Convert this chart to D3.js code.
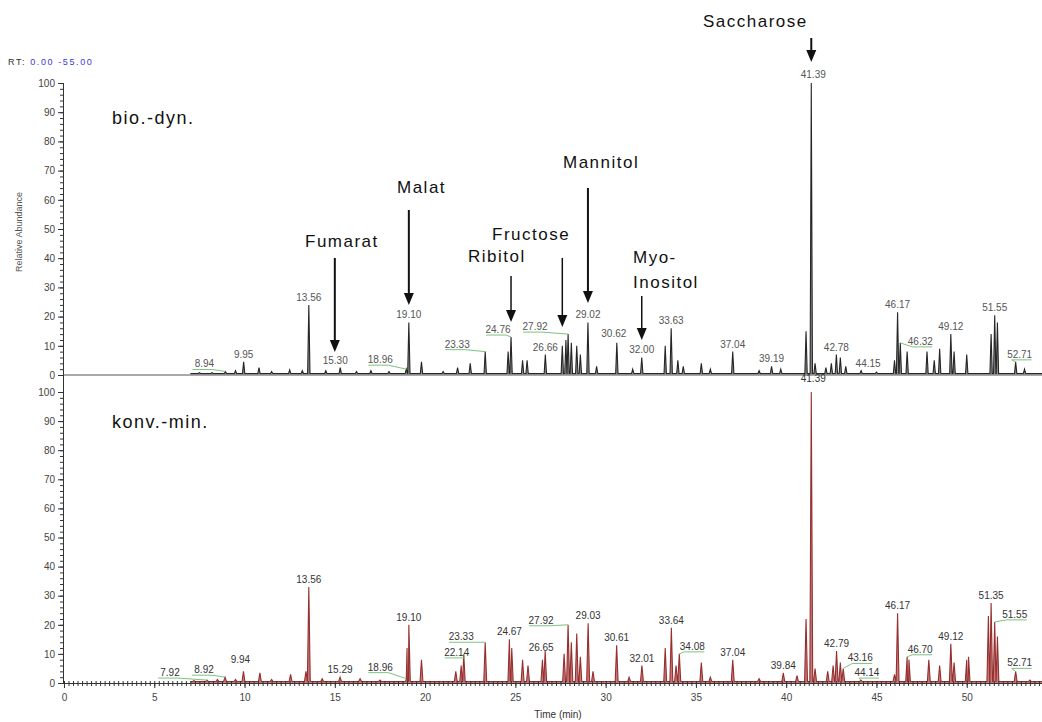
<!DOCTYPE html>
<html>
<head>
<meta charset="utf-8">
<script src="https://cdn.jsdelivr.net/npm/d3@7"></script>
<style>
  body { margin: 0; background: #fff; }
  svg { display: block; font-family: "Liberation Sans", Arial, sans-serif; }
  .axis text { font-size: 10px; fill: #444; }
  .axis line, .axis path { stroke: #333; }
</style>
</head>
<body>
<div id="chart-area"></div>
<script>
// retention times (min) and relative abundance (%)
var bioTimes = [7.5, 8.2, 8.94, 9.5, 9.95, 10.8, 11.5, 12.5, 13.2, 13.56, 14.5, 15.30, 16.2, 17.0, 18.0, 18.96, 19.10, 19.8, 21.0, 21.8, 22.5, 23.33, 24.60, 24.76, 25.40, 25.65, 26.66, 27.60, 27.80, 27.92, 28.10, 28.40, 28.60, 29.02, 29.50, 30.62, 31.50, 32.00, 33.30, 33.63, 34.00, 34.3, 35.30, 35.80, 37.04, 38.50, 39.19, 39.70, 41.10, 41.39, 41.60, 42.20, 42.50, 42.78, 43.00, 43.30, 44.15, 45.0, 46.00, 46.17, 46.32, 46.70, 47.80, 48.20, 48.50, 49.12, 49.30, 50.00, 51.35, 51.55, 51.70, 52.71, 53.20];
var bioValues = [0.8, 0.8, 1.2, 1.5, 4.5, 2.5, 1.2, 1.8, 1.5, 24, 1.5, 2.5, 1.2, 1.5, 1.2, 2, 18, 4.5, 1.2, 2.5, 4, 8, 8, 13, 5, 5, 7, 10, 12, 14, 11, 10, 7, 18, 3, 11, 2, 6, 10, 16, 5, 3, 4, 2, 8, 1.5, 3, 2, 15, 100, 4, 2.5, 4, 7, 6, 3, 1.5, 1, 5, 21.5, 11, 8, 8, 5, 9, 14, 8, 7, 14, 20.5, 18, 4.5, 2];

var konvTimes = [7.2, 7.92, 8.5, 8.92, 9.5, 9.94, 10.85, 11.5, 12.55, 13.40, 13.56, 14.3, 15.29, 16.4, 17.5, 18.96, 19.00, 19.10, 19.80, 21.70, 22.00, 22.14, 23.33, 24.67, 24.80, 25.40, 25.70, 26.50, 26.65, 27.70, 27.92, 28.10, 28.40, 28.60, 29.03, 29.30, 30.61, 31.30, 32.01, 33.30, 33.64, 33.90, 34.08, 35.30, 35.8, 37.04, 38.5, 39.84, 40.6, 41.10, 41.39, 41.60, 42.30, 42.60, 42.79, 43.00, 43.16, 44.14, 46.00, 46.17, 46.70, 46.80, 47.90, 48.50, 49.12, 49.30, 50.00, 50.10, 51.20, 51.35, 51.55, 51.70, 52.71, 53.50];
var konvValues = [0.8, 1, 1.2, 2, 1.2, 4, 3.5, 1.2, 3, 4, 33, 1.5, 2, 1.5, 1, 1.5, 12, 20, 8, 4, 6, 10, 14, 15, 12, 8, 6, 8, 11, 10, 20, 14, 17, 9, 20.5, 4, 13, 2, 6, 12, 19, 6, 10, 7, 2, 8, 1.5, 3.5, 2.5, 22, 100, 5, 4, 6, 11, 7, 5, 1, 3, 24, 9, 8, 8, 6, 13.5, 7, 8, 9, 23, 27.5, 21, 16, 4, 1];

// labelled peaks
var bioLabels = [8.94, 9.95, 13.56, 15.30, 18.96, 19.10, 23.33, 24.76, 26.66, 27.92, 29.02, 30.62, 32.00, 33.63, 37.04, 39.19, 41.39, 42.78, 44.15, 46.17, 46.32, 49.12, 51.55, 52.71];
var konvLabels = [7.92, 8.92, 9.94, 13.56, 15.29, 18.96, 19.10, 22.14, 23.33, 24.67, 26.65, 27.92, 29.03, 30.61, 32.01, 33.64, 34.08, 37.04, 39.84, 41.39, 42.79, 43.16, 44.14, 46.17, 46.70, 49.12, 51.35, 51.55, 52.71];

var compounds = ["Saccharose", "Fumarat", "Malat", "Ribitol", "Fructose", "Mannitol", "Myo-Inositol"];
var compoundTimes = [41.39, 15.0, 19.1, 24.76, 27.6, 29.02, 32.0];

var xTicks = d3.range(0, 51, 5);
var yTicks = d3.range(0, 101, 10);

var width = 1042, height = 722;
var svg = d3.select("#chart-area").append("svg")
  .attr("width", width).attr("height", height);

var x = d3.scaleLinear().domain([0, 55]).range([64, 1057]);
var yTop = d3.scaleLinear().domain([0, 100]).range([375, 83]);
var yBot = d3.scaleLinear().domain([0, 100]).range([683, 392]);

// label nudges (px) where the software moved a label off its peak
var bioNudge = {"8.94": [-21, 0, 1], "15.30": [-5, 0], "18.96": [-26, -2, 1], "23.33": [-28, 0, 1], "24.76": [-13, 0, 1],
  "27.92": [-33, 0, 1], "41.39": [2, -1], "44.15": [7, 0], "46.32": [20, 6, 1], "52.71": [4, 0, 1], "30.62": [-3, -2]};
var konvNudge = {"7.92": [-37, 0, 1], "8.92": [-21, 0, 1], "18.96": [-26, -4, 1], "22.14": [-7, 6, 1], "23.33": [-24, 2, 1],
  "26.65": [-4, 4], "27.92": [-27, 3, 1], "34.08": [13, 0, 1], "41.39": [2, -6], "43.16": [17, -3, 1], "44.14": [6, 0, 1],
  "46.70": [13, 0, 1], "51.55": [20, 0, 1], "52.71": [4, -1, 1], "9.94": [-3, -4]};

function tracePoints(times, values, hw) {
  var pts = [{t: 7.0, v: 0.5}];
  times.forEach(function(t, i) {
    pts.push({t: t - hw, v: 0.5});
    pts.push({t: t, v: values[i]});
    pts.push({t: t + hw, v: 0.5});
  });
  pts.push({t: 54.6, v: 0.5});
  pts.sort(function(a, b) { return a.t - b.t; });
  return pts;
}

function drawTrace(times, values, y, fill, stroke, hw) {
  var pts = tracePoints(times, values, hw);
  var area = d3.area().x(function(d) { return x(d.t); })
    .y0(y(0)).y1(function(d) { return y(d.v); });
  var line = d3.line().x(function(d) { return x(d.t); })
    .y(function(d) { return y(d.v); });
  svg.append("path").datum(pts).attr("d", area).attr("fill", fill);
  svg.append("path").datum(pts).attr("d", line)
    .attr("fill", "none").attr("stroke", stroke).attr("stroke-width", 1.1);
}

function drawLabels(labels, times, values, y, nudge, color) {
  var fmt = d3.format(".2f");
  labels.forEach(function(t) {
    var i = times.indexOf(t);
    var v = values[i];
    var key = fmt(t);
    var n = nudge[key] || [0, 0];
    var px = x(t), py = y(v);
    var lx = px + n[0], ly = py - 4 + n[1];
    if (n[2]) {
      var dir = n[0] < 0 ? 1 : -1;
      svg.append("polyline")
        .attr("points", [[lx - dir * 12, ly + 2], [lx + dir * 8, ly + 2], [px, py]].join(" "))
        .attr("fill", "none").attr("stroke", "#7cc47c").attr("stroke-width", 1);
    }
    svg.append("text")
      .attr("x", lx).attr("y", ly)
      .attr("text-anchor", "middle")
      .attr("font-size", "10px")
      .attr("fill", color)
      .text(key);
  });
}

// zero line of upper trace
svg.append("line").attr("x1", 64).attr("x2", width).attr("y1", yTop(0)).attr("y2", yTop(0))
  .attr("stroke", "#555").attr("stroke-width", 1);

drawTrace(bioTimes, bioValues, yTop, "#8c8c8c", "#262626", 0.065);
drawTrace(konvTimes, konvValues, yBot, "#c47a7a", "#962f2f", 0.08);

drawLabels(bioLabels, bioTimes, bioValues, yTop, bioNudge, "#555");
drawLabels(konvLabels, konvTimes, konvValues, yBot, konvNudge, "#333");

// axes
svg.append("g").attr("class", "axis").attr("transform", "translate(63,0)")
  .call(d3.axisLeft(yTop).tickValues(yTicks).tickSize(5).tickSizeOuter(0));
svg.append("g").attr("class", "axis").attr("transform", "translate(63,0)")
  .call(d3.axisLeft(yTop).tickValues(d3.range(0, 101, 2)).tickSize(3).tickSizeOuter(0).tickFormat(""));
svg.append("g").attr("class", "axis").attr("transform", "translate(63,0)")
  .call(d3.axisLeft(yBot).tickValues(yTicks).tickSize(5).tickSizeOuter(0));
svg.append("g").attr("class", "axis").attr("transform", "translate(63,0)")
  .call(d3.axisLeft(yBot).tickValues(d3.range(0, 101, 2)).tickSize(3).tickSizeOuter(0).tickFormat(""));
svg.selectAll(".axis .domain").remove();
svg.append("line").attr("x1", 63.5).attr("x2", 63.5).attr("y1", yTop(100)).attr("y2", yBot(0))
  .attr("stroke", "#333");

svg.append("g").attr("class", "axis").attr("transform", "translate(0," + yBot(0) + ")")
  .call(d3.axisBottom(x).tickValues(xTicks).tickSize(5).tickSizeOuter(0).tickPadding(6));
svg.append("g").attr("class", "axis").attr("transform", "translate(0," + yBot(0) + ")")
  .call(d3.axisBottom(x).tickValues(d3.range(0, 55, 0.25)).tickSize(3).tickSizeOuter(0).tickFormat(""))
  .selectAll(".tick line").attr("y1", -2);
svg.selectAll(".axis .domain").remove();
svg.append("line").attr("x1", 63).attr("x2", width).attr("y1", yBot(0) + 0.5).attr("y2", yBot(0) + 0.5)
  .attr("stroke", "#333");

svg.append("text").attr("x", 558).attr("y", 718).attr("text-anchor", "middle")
  .attr("font-size", "10px").attr("fill", "#333").text("Time (min)");
svg.append("text").attr("transform", "translate(22,232) rotate(-90)").attr("text-anchor", "middle")
  .attr("font-size", "9px").attr("fill", "#555").text("Relative Abundance");

var rt = svg.append("text").attr("x", 8).attr("y", 65).attr("font-size", "9px").attr("letter-spacing", "1.6px");
rt.append("tspan").attr("fill", "#333").text("RT: ");
rt.append("tspan").attr("fill", "#3a3ad0").text("0.00 -55.00");

// panel names
svg.append("text").attr("x", 112).attr("y", 124).attr("font-size", "18px").attr("letter-spacing", "1.5px")
  .attr("fill", "#111").text("bio.-dyn.");
svg.append("text").attr("x", 112).attr("y", 428).attr("font-size", "18px").attr("letter-spacing", "1.5px")
  .attr("fill", "#111").text("konv.-min.");

// compound annotations with arrows
var annot = [
  {name: "Saccharose", lines: ["Saccharose"], tx: 703, ty: 27, y1: 38, y2: 62, w: 2},
  {name: "Fumarat", lines: ["Fumarat"], tx: 305, ty: 247, y1: 258, y2: 352, w: 2},
  {name: "Malat", lines: ["Malat"], tx: 397, ty: 193, y1: 210, y2: 305, w: 2},
  {name: "Ribitol", lines: ["Ribitol"], tx: 468, ty: 262, y1: 276, y2: 322, w: 1.5},
  {name: "Fructose", lines: ["Fructose"], tx: 492, ty: 240, y1: 258, y2: 327, w: 1.5},
  {name: "Mannitol", lines: ["Mannitol"], tx: 563, ty: 168, y1: 188, y2: 303, w: 2},
  {name: "Myo-Inositol", lines: ["Myo-", "Inositol"], tx: 633, ty: 263, y1: 296, y2: 340, w: 1.5}
];
annot.forEach(function(a) {
  var ax = x(compoundTimes[compounds.indexOf(a.name)]);
  var t = svg.append("text").attr("x", a.tx).attr("y", a.ty).attr("font-size", "17px")
    .attr("letter-spacing", "1.5px").attr("fill", "#111");
  a.lines.forEach(function(s, j) {
    t.append("tspan").attr("x", a.tx).attr("dy", j ? 25 : 0).text(s);
  });
  svg.append("line").attr("x1", ax).attr("x2", ax).attr("y1", a.y1).attr("y2", a.y2 - 10)
    .attr("stroke", "#111").attr("stroke-width", a.w);
  svg.append("path")
    .attr("d", "M" + (ax - 5) + "," + (a.y2 - 12) + "L" + (ax + 5) + "," + (a.y2 - 12) + "L" + ax + "," + a.y2 + "Z")
    .attr("fill", "#111");
});
</script>
</body>
</html>
